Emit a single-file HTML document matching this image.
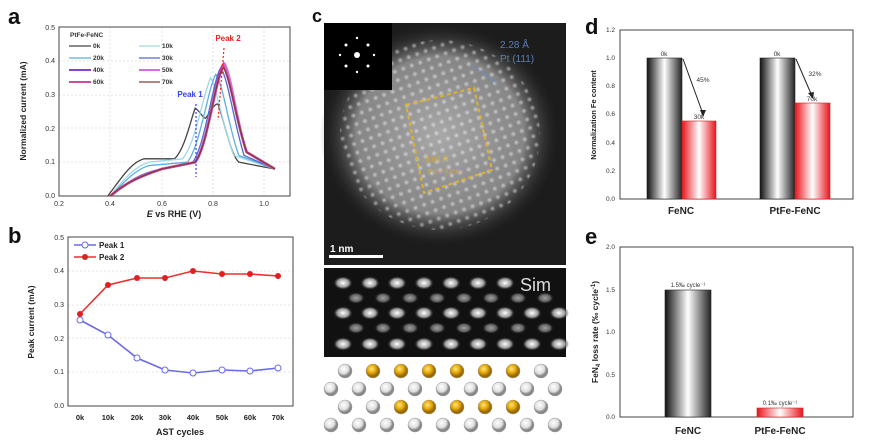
<!DOCTYPE html>
<html><head><meta charset="utf-8"><style>
html,body{margin:0;padding:0;background:#fff;}
svg{display:block;font-family:"Liberation Sans",Arial,sans-serif;}
.t{font-size:7px;fill:#333;}
.l{font-size:9px;font-weight:bold;fill:#222;}
.L{font-size:22px;font-weight:bold;fill:#111;}
.g{stroke:#ccc;stroke-width:0.6;stroke-dasharray:2,2;}
.ns{vector-effect:non-scaling-stroke;fill:none;}
</style></head><body>
<svg width="886" height="447" viewBox="0 0 886 447">
<defs>
<linearGradient id="gg" x1="0" x2="1"><stop offset="0" stop-color="#111"/><stop offset="0.5" stop-color="#fff"/><stop offset="1" stop-color="#222"/></linearGradient>
<linearGradient id="rg" x1="0" x2="1"><stop offset="0" stop-color="#e8141c"/><stop offset="0.5" stop-color="#fff"/><stop offset="1" stop-color="#e8141c"/></linearGradient>
<radialGradient id="blob" cx="0.5" cy="0.5" r="0.5"><stop offset="0" stop-color="#a8a8a8"/><stop offset="0.7" stop-color="#858585"/><stop offset="1" stop-color="#222" stop-opacity="0"/></radialGradient>
<radialGradient id="dot"><stop offset="0" stop-color="#fff"/><stop offset="1" stop-color="#fff" stop-opacity="0"/></radialGradient>
<pattern id="atoms" width="9" height="9" patternUnits="userSpaceOnUse" patternTransform="rotate(-20)"><circle cx="4.5" cy="4.5" r="3" fill="url(#dot)"/></pattern>
<radialGradient id="sd"><stop offset="0" stop-color="#fff"/><stop offset="0.6" stop-color="#999"/><stop offset="1" stop-color="#111" stop-opacity="0"/></radialGradient>
<radialGradient id="wb" cx="0.4" cy="0.35"><stop offset="0" stop-color="#fff"/><stop offset="0.7" stop-color="#ddd"/><stop offset="1" stop-color="#888"/></radialGradient>
<radialGradient id="yb" cx="0.4" cy="0.35"><stop offset="0" stop-color="#ffe680"/><stop offset="0.6" stop-color="#e6a800"/><stop offset="1" stop-color="#9a6a00"/></radialGradient>
<clipPath id="ca"><rect x="59" y="27" width="231" height="169"/></clipPath>
</defs>

<!-- Panel a -->
<text class="L" x="8" y="24">a</text>
<g>
<line class="g" x1="59" y1="162" x2="290" y2="162"/><line class="g" x1="59" y1="128" x2="290" y2="128"/><line class="g" x1="59" y1="95" x2="290" y2="95"/><line class="g" x1="59" y1="61" x2="290" y2="61"/>
<line class="g" x1="110" y1="27" x2="110" y2="196"/><line class="g" x1="162" y1="27" x2="162" y2="196"/><line class="g" x1="213" y1="27" x2="213" y2="196"/><line class="g" x1="264" y1="27" x2="264" y2="196"/>
</g>
<rect x="59" y="27" width="231" height="169" fill="none" stroke="#444" stroke-width="1"/>
<g class="t" text-anchor="end"><text x="55" y="198">0.0</text><text x="55" y="164">0.1</text><text x="55" y="131">0.2</text><text x="55" y="97">0.3</text><text x="55" y="63">0.4</text><text x="55" y="30">0.5</text></g>
<g class="t" text-anchor="middle"><text x="59" y="206">0.2</text><text x="110" y="206">0.4</text><text x="162" y="206">0.6</text><text x="213" y="206">0.8</text><text x="264" y="206">1.0</text></g>
<text class="l" x="174" y="217" text-anchor="middle"><tspan font-style="italic">E</tspan> vs RHE (V)</text>
<text class="l" transform="translate(26,111) rotate(-90)" text-anchor="middle" style="font-size:8.5px">Normalized current (mA)</text>
<g clip-path="url(#ca)">
<g transform="translate(7.6,196) scale(257,-338)">
<path class="ns" stroke="#444" stroke-width="1.3" d="M0.39,0 C0.44,0.05 0.48,0.1 0.53,0.11 L0.65,0.11 C0.69,0.14 0.71,0.22 0.73,0.26 C0.75,0.25 0.76,0.23 0.77,0.23 C0.79,0.25 0.81,0.28 0.82,0.27 C0.85,0.2 0.87,0.12 0.9,0.1 L1.04,0.08"/>
<path class="ns" stroke="#9fd9e0" stroke-width="1.3" d="M0.4,0 C0.45,0.05 0.5,0.09 0.55,0.1 L0.68,0.11 C0.73,0.15 0.76,0.3 0.79,0.35 C0.81,0.33 0.84,0.2 0.88,0.12 L1.04,0.08"/>
<path class="ns" stroke="#5ab0e0" stroke-width="1.3" d="M0.4,0 C0.45,0.04 0.5,0.08 0.55,0.09 L0.7,0.1 C0.75,0.15 0.78,0.32 0.81,0.36 C0.84,0.33 0.86,0.2 0.9,0.12 L1.04,0.08"/>
<path class="ns" stroke="#5566cc" stroke-width="1.3" d="M0.4,0 C0.46,0.04 0.52,0.07 0.6,0.08 L0.72,0.1 C0.77,0.15 0.8,0.35 0.83,0.38 C0.86,0.34 0.88,0.22 0.92,0.12 L1.04,0.08"/>
<path class="ns" stroke="#8a44cc" stroke-width="2.6" d="M0.4,0 C0.46,0.04 0.52,0.06 0.6,0.08 L0.73,0.1 C0.78,0.15 0.81,0.36 0.84,0.39 C0.87,0.34 0.89,0.22 0.93,0.13 L1.04,0.08"/>
<path class="ns" stroke="#d070e0" stroke-width="2.6" d="M0.4,0 C0.46,0.04 0.52,0.06 0.6,0.08 L0.73,0.1 C0.78,0.15 0.81,0.36 0.845,0.39 C0.875,0.34 0.89,0.22 0.93,0.13 L1.04,0.08"/>
<path class="ns" stroke="#d04a9a" stroke-width="2.2" d="M0.4,0 C0.46,0.04 0.52,0.06 0.6,0.08 L0.73,0.1 C0.78,0.15 0.81,0.36 0.84,0.385 C0.87,0.34 0.89,0.22 0.93,0.13 L1.04,0.08"/>
<path class="ns" stroke="#8a3a3a" stroke-width="1.3" d="M0.4,0 C0.46,0.04 0.52,0.06 0.6,0.08 L0.73,0.1 C0.78,0.15 0.81,0.36 0.84,0.38 C0.87,0.34 0.89,0.22 0.93,0.13 L1.04,0.08"/>
</g></g>
<line x1="196" y1="104" x2="196" y2="177" stroke="#3344ee" stroke-width="1.2" stroke-dasharray="2,2"/>
<text x="190" y="97" style="font-size:8px;font-weight:bold;fill:#3344ee" text-anchor="middle">Peak 1</text>
<line x1="224" y1="48" x2="218" y2="120" stroke="#ee2222" stroke-width="1.2" stroke-dasharray="2,2"/>
<text x="228" y="41" style="font-size:8px;font-weight:bold;fill:#ee2222" text-anchor="middle">Peak 2</text>
<g style="font-size:6.5px;font-weight:bold;fill:#333">
<text x="70" y="37">PtFe-FeNC</text>
<line x1="69" y1="46" x2="91" y2="46" stroke="#444" stroke-width="1.3"/><text x="93" y="48">0k</text>
<line x1="139" y1="46" x2="160" y2="46" stroke="#9fd9e0" stroke-width="1.3"/><text x="162" y="48">10k</text>
<line x1="69" y1="58" x2="91" y2="58" stroke="#5ab0e0" stroke-width="1.3"/><text x="93" y="60">20k</text>
<line x1="139" y1="58" x2="160" y2="58" stroke="#5566cc" stroke-width="1.3"/><text x="162" y="60">30k</text>
<line x1="69" y1="70" x2="91" y2="70" stroke="#8a44cc" stroke-width="2"/><text x="93" y="72">40k</text>
<line x1="139" y1="70" x2="160" y2="70" stroke="#d070e0" stroke-width="2"/><text x="162" y="72">50k</text>
<line x1="69" y1="82" x2="91" y2="82" stroke="#d04a9a" stroke-width="2"/><text x="93" y="84">60k</text>
<line x1="139" y1="82" x2="160" y2="82" stroke="#8a3a3a" stroke-width="1.3"/><text x="162" y="84">70k</text>
</g>

<!-- Panel b -->
<text class="L" x="8" y="243">b</text>
<g>
<line class="g" x1="68" y1="372" x2="293" y2="372"/><line class="g" x1="68" y1="338" x2="293" y2="338"/><line class="g" x1="68" y1="305" x2="293" y2="305"/><line class="g" x1="68" y1="271" x2="293" y2="271"/>
</g>
<rect x="68" y="237" width="225" height="169" fill="none" stroke="#444"/>
<g class="t" text-anchor="end"><text x="64" y="408">0.0</text><text x="64" y="374">0.1</text><text x="64" y="341">0.2</text><text x="64" y="307">0.3</text><text x="64" y="273">0.4</text><text x="64" y="240">0.5</text></g>
<g class="l" text-anchor="middle" style="font-size:7.5px"><text x="80" y="420">0k</text><text x="108" y="420">10k</text><text x="137" y="420">20k</text><text x="165" y="420">30k</text><text x="193" y="420">40k</text><text x="222" y="420">50k</text><text x="250" y="420">60k</text><text x="278" y="420">70k</text></g>
<text class="l" x="180" y="435" text-anchor="middle">AST cycles</text>
<text class="l" transform="translate(34,322) rotate(-90)" text-anchor="middle" style="font-size:8.5px">Peak current (mA)</text>
<polyline fill="none" stroke="#6a6ae8" stroke-width="1.6" points="80,320 108,335 137,358 165,370 193,373 222,370 250,371 278,368"/>
<g fill="#fff" stroke="#6a6ae8" stroke-width="1"><circle cx="80" cy="320" r="3"/><circle cx="108" cy="335" r="3"/><circle cx="137" cy="358" r="3"/><circle cx="165" cy="370" r="3"/><circle cx="193" cy="373" r="3"/><circle cx="222" cy="370" r="3"/><circle cx="250" cy="371" r="3"/><circle cx="278" cy="368" r="3"/></g>
<polyline fill="none" stroke="#e83030" stroke-width="1.6" points="80,314 108,285 137,278 165,278 193,271 222,274 250,274 278,276"/>
<g fill="#e02020"><circle cx="80" cy="314" r="3"/><circle cx="108" cy="285" r="3"/><circle cx="137" cy="278" r="3"/><circle cx="165" cy="278" r="3"/><circle cx="193" cy="271" r="3"/><circle cx="222" cy="274" r="3"/><circle cx="250" cy="274" r="3"/><circle cx="278" cy="276" r="3"/></g>
<line x1="74" y1="245" x2="96" y2="245" stroke="#6a6ae8" stroke-width="1.6"/><circle cx="85" cy="245" r="3" fill="#fff" stroke="#6a6ae8"/>
<text class="l" x="99" y="248" style="font-size:8px">Peak 1</text>
<line x1="74" y1="257" x2="96" y2="257" stroke="#e83030" stroke-width="1.6"/><circle cx="85" cy="257" r="3" fill="#e02020"/>
<text class="l" x="99" y="260" style="font-size:8px">Peak 2</text>

<!-- Panel c -->
<text class="L" x="312" y="22" style="font-size:18px">c</text>
<rect x="324" y="23" width="242" height="242" fill="#1c1c1c"/>
<ellipse cx="440" cy="135" rx="120" ry="112" fill="url(#blob)"/>
<ellipse cx="440" cy="135" rx="100" ry="95" fill="url(#atoms)" opacity="0.55"/>
<rect x="324" y="23" width="68" height="67" fill="#000"/>
<g fill="#fff"><circle cx="357" cy="55" r="3"/><circle cx="346" cy="45" r="1.5"/><circle cx="368" cy="45" r="1.5"/><circle cx="346" cy="66" r="1.5"/><circle cx="368" cy="66" r="1.5"/><circle cx="357" cy="38" r="1.2"/><circle cx="357" cy="72" r="1.2"/><circle cx="340" cy="55" r="1.2"/><circle cx="374" cy="55" r="1.2"/></g>
<text x="500" y="48" style="font-size:10px;fill:#5a7fb0">2.28 Å</text>
<text x="500" y="62" style="font-size:10px;fill:#5a7fb0">Pt (111)</text>
<line x1="472" y1="65" x2="498" y2="84" stroke="#6a8fc0" stroke-width="0.8"/>
<polygon points="406,105 474,88 492,170 424,193" fill="none" stroke="#e0b030" stroke-width="2" stroke-dasharray="4,3"/>
<text x="425" y="162" style="font-size:8px;fill:#d8a830">3.68 Å</text>
<text x="428" y="174" style="font-size:7px;fill:#d8a830">PtFe (001)</text>
<text x="330" y="252" style="font-size:10px;font-weight:bold;fill:#fff">1 nm</text>
<rect x="329" y="255" width="54" height="3" fill="#fff"/>
<rect x="324" y="268" width="242" height="89" fill="#111"/>
<g fill="url(#sd)">
<ellipse cx="343" cy="283" rx="10" ry="7"/><ellipse cx="370" cy="283" rx="10" ry="7"/><ellipse cx="397" cy="283" rx="10" ry="7"/><ellipse cx="424" cy="283" rx="10" ry="7"/><ellipse cx="451" cy="283" rx="10" ry="7"/><ellipse cx="478" cy="283" rx="10" ry="7"/><ellipse cx="505" cy="283" rx="10" ry="7"/>
<ellipse cx="356" cy="298" rx="9" ry="6" opacity="0.6"/><ellipse cx="383" cy="298" rx="9" ry="6" opacity="0.6"/><ellipse cx="410" cy="298" rx="9" ry="6" opacity="0.6"/><ellipse cx="437" cy="298" rx="9" ry="6" opacity="0.6"/><ellipse cx="464" cy="298" rx="9" ry="6" opacity="0.6"/><ellipse cx="491" cy="298" rx="9" ry="6" opacity="0.6"/><ellipse cx="518" cy="298" rx="9" ry="6" opacity="0.6"/><ellipse cx="545" cy="298" rx="9" ry="6" opacity="0.6"/>
<ellipse cx="343" cy="313" rx="10" ry="7"/><ellipse cx="370" cy="313" rx="10" ry="7"/><ellipse cx="397" cy="313" rx="10" ry="7"/><ellipse cx="424" cy="313" rx="10" ry="7"/><ellipse cx="451" cy="313" rx="10" ry="7"/><ellipse cx="478" cy="313" rx="10" ry="7"/><ellipse cx="505" cy="313" rx="10" ry="7"/><ellipse cx="532" cy="313" rx="10" ry="7"/><ellipse cx="559" cy="313" rx="10" ry="7"/>
<ellipse cx="356" cy="328" rx="9" ry="6" opacity="0.6"/><ellipse cx="383" cy="328" rx="9" ry="6" opacity="0.6"/><ellipse cx="410" cy="328" rx="9" ry="6" opacity="0.6"/><ellipse cx="437" cy="328" rx="9" ry="6" opacity="0.6"/><ellipse cx="464" cy="328" rx="9" ry="6" opacity="0.6"/><ellipse cx="491" cy="328" rx="9" ry="6" opacity="0.6"/><ellipse cx="518" cy="328" rx="9" ry="6" opacity="0.6"/><ellipse cx="545" cy="328" rx="9" ry="6" opacity="0.6"/>
<ellipse cx="343" cy="344" rx="10" ry="7"/><ellipse cx="370" cy="344" rx="10" ry="7"/><ellipse cx="397" cy="344" rx="10" ry="7"/><ellipse cx="424" cy="344" rx="10" ry="7"/><ellipse cx="451" cy="344" rx="10" ry="7"/><ellipse cx="478" cy="344" rx="10" ry="7"/><ellipse cx="505" cy="344" rx="10" ry="7"/><ellipse cx="532" cy="344" rx="10" ry="7"/><ellipse cx="559" cy="344" rx="10" ry="7"/>
</g>
<text x="520" y="291" style="font-size:18px;fill:#ddd">Sim</text>
<g stroke="#999" stroke-width="0.5">
<circle cx="345" cy="371" r="7" fill="url(#wb)"/><circle cx="373" cy="371" r="7" fill="url(#yb)"/><circle cx="401" cy="371" r="7" fill="url(#yb)"/><circle cx="429" cy="371" r="7" fill="url(#yb)"/><circle cx="457" cy="371" r="7" fill="url(#yb)"/><circle cx="485" cy="371" r="7" fill="url(#yb)"/><circle cx="513" cy="371" r="7" fill="url(#yb)"/><circle cx="541" cy="371" r="7" fill="url(#wb)"/>
<circle cx="331" cy="389" r="7" fill="url(#wb)"/><circle cx="359" cy="389" r="7" fill="url(#wb)"/><circle cx="387" cy="389" r="7" fill="url(#wb)"/><circle cx="415" cy="389" r="7" fill="url(#wb)"/><circle cx="443" cy="389" r="7" fill="url(#wb)"/><circle cx="471" cy="389" r="7" fill="url(#wb)"/><circle cx="499" cy="389" r="7" fill="url(#wb)"/><circle cx="527" cy="389" r="7" fill="url(#wb)"/><circle cx="555" cy="389" r="7" fill="url(#wb)"/>
<circle cx="345" cy="407" r="7" fill="url(#wb)"/><circle cx="373" cy="407" r="7" fill="url(#wb)"/><circle cx="401" cy="407" r="7" fill="url(#yb)"/><circle cx="429" cy="407" r="7" fill="url(#yb)"/><circle cx="457" cy="407" r="7" fill="url(#yb)"/><circle cx="485" cy="407" r="7" fill="url(#yb)"/><circle cx="513" cy="407" r="7" fill="url(#yb)"/><circle cx="541" cy="407" r="7" fill="url(#wb)"/>
<circle cx="331" cy="425" r="7" fill="url(#wb)"/><circle cx="359" cy="425" r="7" fill="url(#wb)"/><circle cx="387" cy="425" r="7" fill="url(#wb)"/><circle cx="415" cy="425" r="7" fill="url(#wb)"/><circle cx="443" cy="425" r="7" fill="url(#wb)"/><circle cx="471" cy="425" r="7" fill="url(#wb)"/><circle cx="499" cy="425" r="7" fill="url(#wb)"/><circle cx="527" cy="425" r="7" fill="url(#wb)"/><circle cx="555" cy="425" r="7" fill="url(#wb)"/>
</g>

<!-- Panel d -->
<text class="L" x="585" y="34">d</text>
<rect x="620" y="30" width="233" height="169" fill="none" stroke="#444"/>
<g class="t" text-anchor="end" style="font-size:6.5px"><text x="615" y="201">0.0</text><text x="615" y="173">0.2</text><text x="615" y="145">0.4</text><text x="615" y="116">0.6</text><text x="615" y="88">0.8</text><text x="615" y="60">1.0</text><text x="615" y="32">1.2</text></g>
<rect x="647" y="58" width="35" height="141" fill="url(#gg)" stroke="#222" stroke-width="0.6"/>
<rect x="682" y="121" width="34" height="78" fill="url(#rg)" stroke="#c22" stroke-width="0.6"/>
<rect x="760" y="58" width="35" height="141" fill="url(#gg)" stroke="#222" stroke-width="0.6"/>
<rect x="795" y="103" width="35" height="96" fill="url(#rg)" stroke="#c22" stroke-width="0.6"/>
<g style="font-size:6.5px;fill:#333" text-anchor="middle"><text x="664" y="56">0k</text><text x="699" y="119">30k</text><text x="777" y="56">0k</text><text x="812" y="101">70k</text><text x="703" y="82">45%</text><text x="815" y="76">32%</text></g>
<line x1="683" y1="59" x2="703" y2="114" stroke="#222" stroke-width="1"/><polygon points="703,117 700,110 706,110" fill="#222"/>
<line x1="796" y1="59" x2="812" y2="96" stroke="#222" stroke-width="1"/><polygon points="813,99 808,93 814,92" fill="#222"/>
<g class="l" text-anchor="middle" style="font-size:10px"><text x="681" y="214">FeNC</text><text x="795" y="214">PtFe-FeNC</text></g>
<text class="l" transform="translate(596,115) rotate(-90)" text-anchor="middle" style="font-size:7.5px">Normalization Fe content</text>

<!-- Panel e -->
<text class="L" x="585" y="244">e</text>
<rect x="620" y="247" width="233" height="170" fill="none" stroke="#444"/>
<g class="t" text-anchor="end" style="font-size:6.5px"><text x="615" y="419">0.0</text><text x="615" y="377">0.5</text><text x="615" y="334">1.0</text><text x="615" y="292">1.5</text><text x="615" y="249">2.0</text></g>
<rect x="665" y="290" width="46" height="127" fill="url(#gg)" stroke="#222" stroke-width="0.6"/>
<rect x="757" y="408" width="46" height="9" fill="url(#rg)" stroke="#c22" stroke-width="0.6"/>
<g style="font-size:6px;fill:#333" text-anchor="middle"><text x="688" y="287">1.5‰ cycle⁻¹</text><text x="780" y="405">0.1‰ cycle⁻¹</text></g>
<g class="l" text-anchor="middle" style="font-size:10px"><text x="688" y="434">FeNC</text><text x="780" y="434">PtFe-FeNC</text></g>
<text class="l" transform="translate(598,332) rotate(-90)" text-anchor="middle" style="font-size:8.5px">FeN<tspan style="font-size:6px" dy="2">4</tspan><tspan dy="-2"> loss rate (‰ cycle</tspan><tspan style="font-size:6px" dy="-3">-1</tspan><tspan dy="3">)</tspan></text>
</svg>
</body></html>
